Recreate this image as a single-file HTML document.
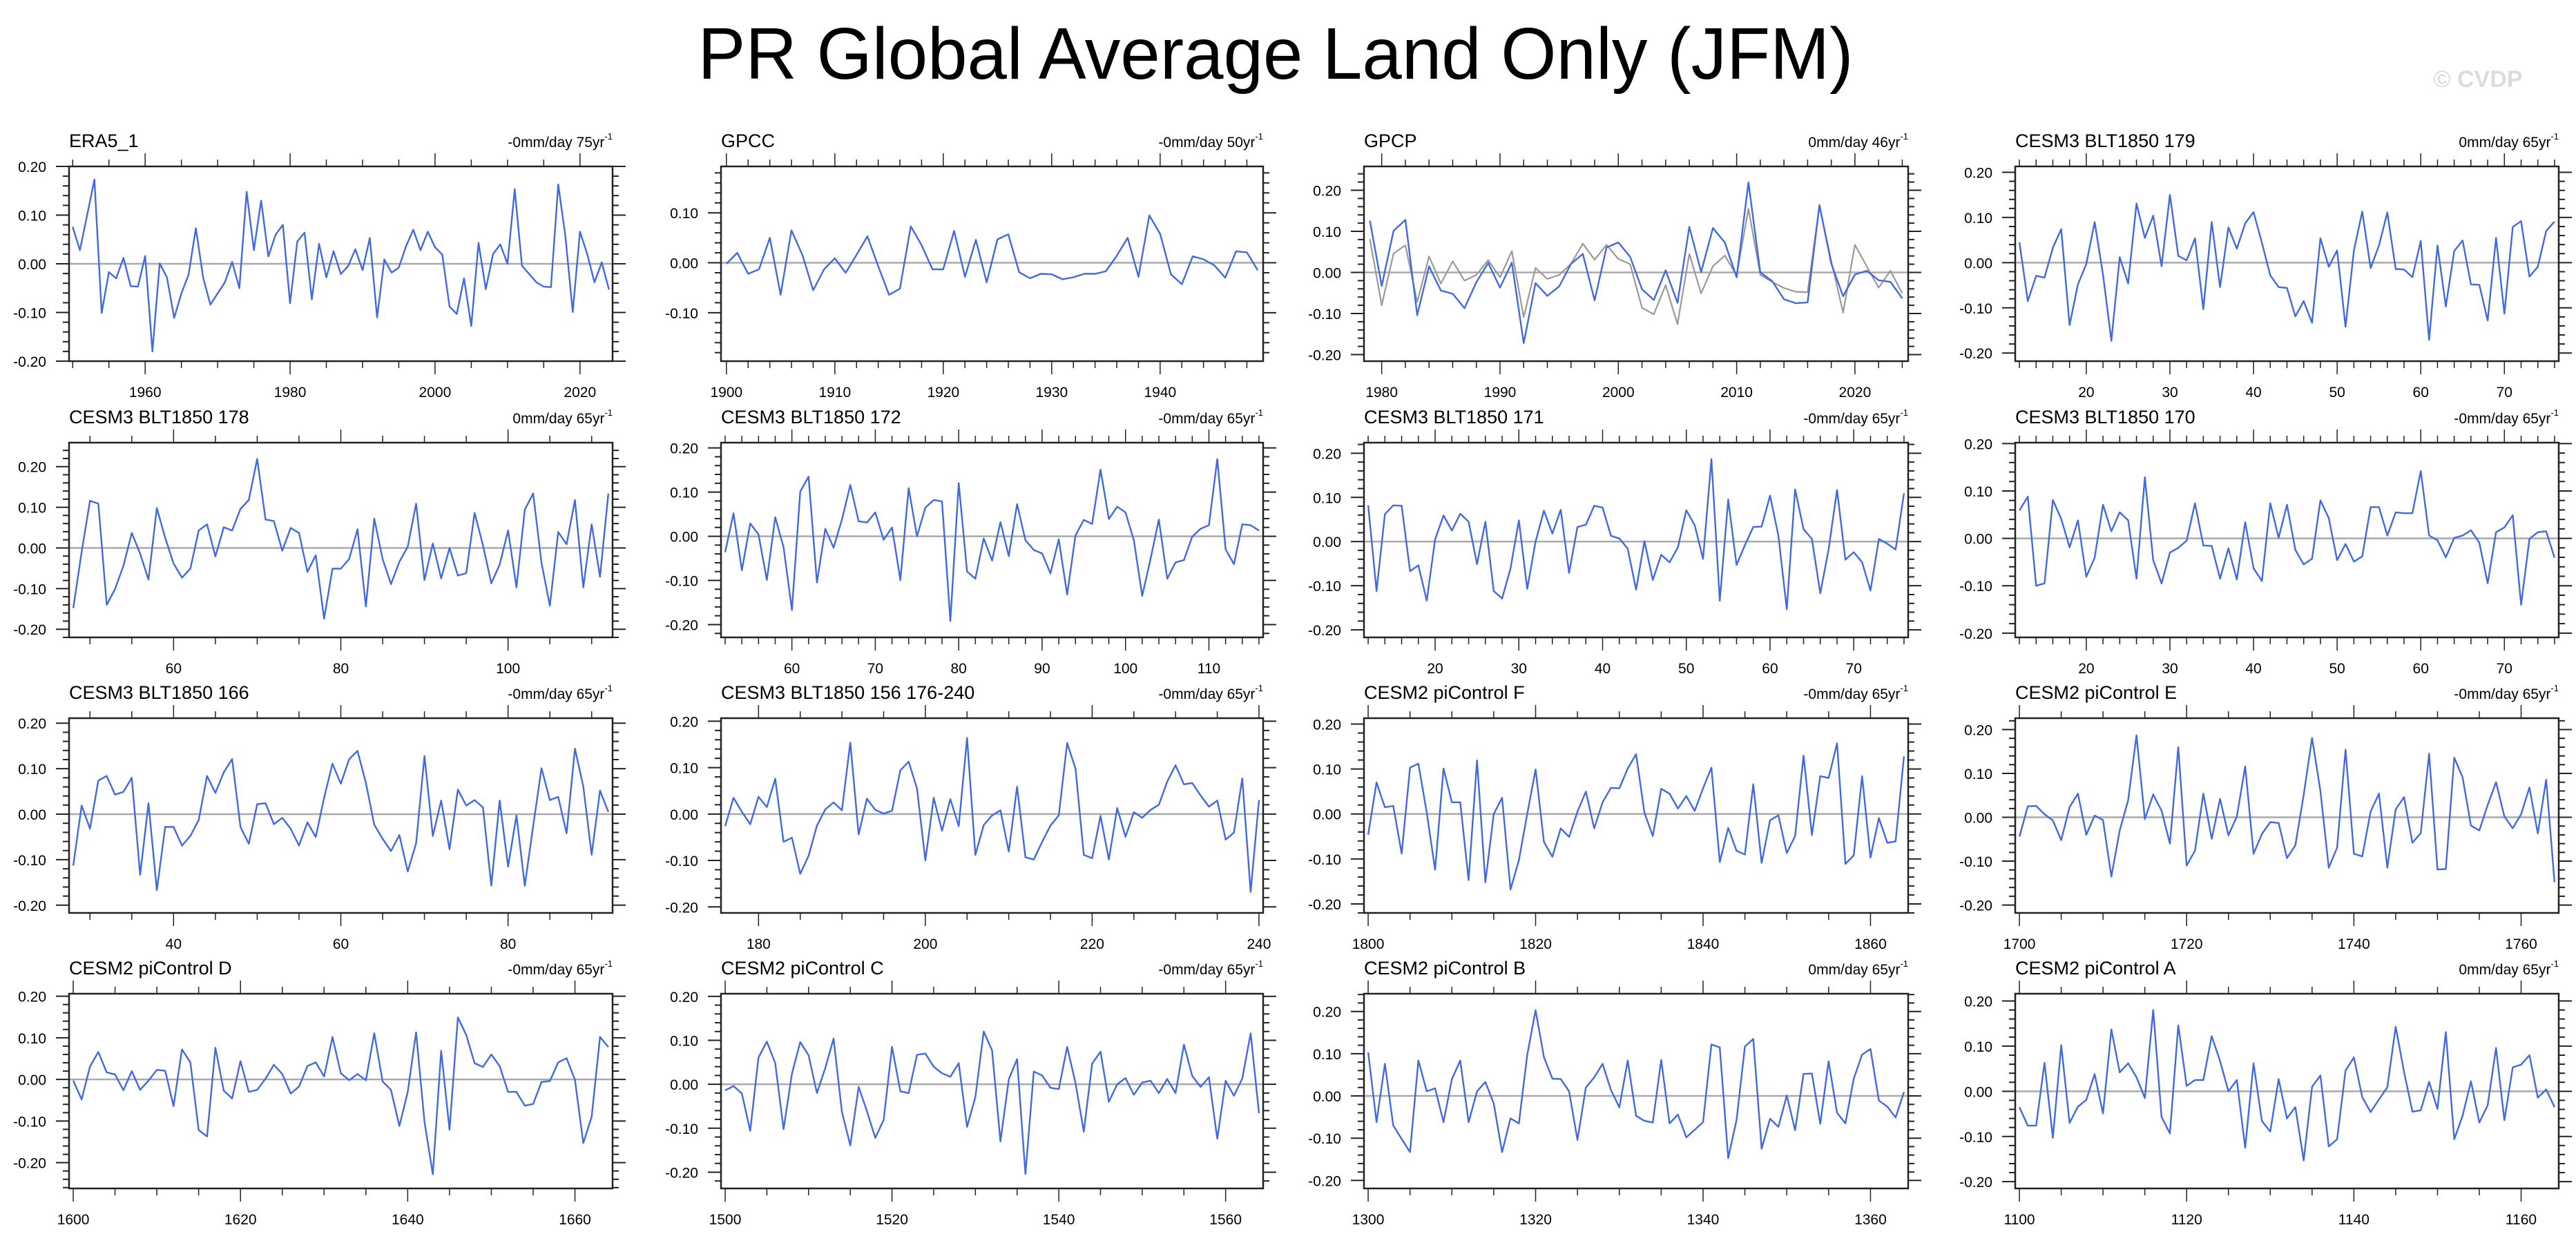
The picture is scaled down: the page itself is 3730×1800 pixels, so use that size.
<!DOCTYPE html>
<html><head><meta charset="utf-8">
<style>
html,body{margin:0;padding:0;background:#fff;}
svg{display:block;font-family:"Liberation Sans",Arial,sans-serif;}
</style></head>
<body>
<svg id="fig" xmlns="http://www.w3.org/2000/svg" width="3730" height="1800" viewBox="0 0 3730 1800">
<rect width="3730" height="1800" fill="#fff"/>
<text x="1847" y="114" font-size="106" text-anchor="middle" textLength="1673" lengthAdjust="spacingAndGlyphs">PR Global Average Land Only (JFM)</text>
<text x="3588" y="126" font-size="34" font-weight="bold" fill="#dcdcdc" text-anchor="middle">© CVDP</text>
<g id="panels"></g>
</svg>
<script>
// ---- data (one value per year, JFM anomaly mm/day) ----
const era5Start = 1950;
const era5 = [0.076,0.028,0.100,0.173,-0.101,-0.017,-0.030,0.012,-0.046,-0.047,0.016,-0.180,0.001,-0.028,-0.111,-0.061,-0.022,0.073,-0.028,-0.084,-0.061,-0.038,0.004,-0.050,0.148,0.028,0.130,0.015,0.060,0.080,-0.081,0.046,0.064,-0.073,0.041,-0.028,0.026,-0.021,-0.005,0.030,-0.013,0.053,-0.110,0.009,-0.018,-0.008,0.036,0.070,0.028,0.066,0.034,0.019,-0.088,-0.103,-0.030,-0.128,0.043,-0.052,0.020,0.040,0.000,0.153,-0.004,-0.021,-0.038,-0.047,-0.048,0.163,0.055,-0.099,0.066,0.020,-0.038,0.003,-0.053];
const gpccStart = 1900;
const gpcc = [-0.002,0.020,-0.022,-0.013,0.050,-0.064,0.065,0.016,-0.055,-0.013,0.009,-0.020,0.016,0.053,-0.007,-0.064,-0.052,0.073,0.035,-0.013,-0.013,0.064,-0.028,0.046,-0.039,0.047,0.057,-0.019,-0.031,-0.022,-0.023,-0.033,-0.029,-0.022,-0.022,-0.017,0.014,0.050,-0.028,0.095,0.058,-0.023,-0.043,0.013,0.007,-0.005,-0.030,0.023,0.021,-0.015];
const gpcpStart = 1979;
const gpcp = [0.126,-0.033,0.101,0.128,-0.104,0.015,-0.044,-0.052,-0.087,-0.024,0.023,-0.037,0.024,-0.172,-0.026,-0.057,-0.034,0.021,0.045,-0.068,0.061,0.073,0.038,-0.041,-0.067,0.005,-0.074,0.111,0.001,0.108,0.073,-0.012,0.219,0.000,-0.021,-0.065,-0.075,-0.073,0.164,0.021,-0.058,-0.005,0.004,-0.019,-0.023,-0.063];
const gpcpRef = [0.081,-0.080,0.046,0.066,-0.072,0.039,-0.027,0.027,-0.020,-0.006,0.030,-0.012,0.052,-0.109,0.011,-0.016,-0.006,0.021,0.070,0.031,0.067,0.033,0.020,-0.086,-0.102,-0.031,-0.126,0.045,-0.051,0.015,0.041,-0.007,0.155,-0.006,-0.023,-0.038,-0.047,-0.048,0.162,0.027,-0.098,0.067,0.015,-0.037,0.004,-0.051];
const c179Start = 12;
const c179 = [0.045,-0.085,-0.029,-0.033,0.033,0.074,-0.138,-0.048,-0.003,0.090,-0.026,-0.173,0.012,-0.046,0.131,0.055,0.104,-0.008,0.150,0.015,0.005,0.054,-0.103,0.090,-0.054,0.078,0.031,0.087,0.112,0.044,-0.028,-0.054,-0.056,-0.119,-0.085,-0.133,0.054,-0.009,0.027,-0.142,0.027,0.113,-0.012,0.038,0.111,-0.014,-0.015,-0.032,0.048,-0.171,0.038,-0.097,0.026,0.049,-0.048,-0.049,-0.128,0.055,-0.113,0.079,0.092,-0.031,-0.009,0.070,0.091];
const c178Start = 48;
const c178 = [-0.148,-0.010,0.116,0.109,-0.140,-0.101,-0.044,0.037,-0.014,-0.078,0.098,0.025,-0.038,-0.073,-0.051,0.043,0.058,-0.021,0.051,0.043,0.096,0.118,0.219,0.070,0.066,-0.007,0.049,0.037,-0.059,-0.018,-0.174,-0.051,-0.051,-0.027,0.046,-0.144,0.072,-0.027,-0.089,-0.034,0.003,0.109,-0.079,0.011,-0.075,0.000,-0.068,-0.062,0.086,0.007,-0.087,-0.041,0.043,-0.097,0.094,0.134,-0.037,-0.142,0.039,0.009,0.118,-0.097,0.058,-0.071,0.134];
const c172Start = 52;
const c172 = [-0.036,0.052,-0.077,0.029,0.004,-0.099,0.043,-0.025,-0.167,0.101,0.135,-0.105,0.017,-0.026,0.038,0.116,0.034,0.031,0.054,-0.008,0.020,-0.099,0.109,0.000,0.065,0.082,0.079,-0.192,0.120,-0.080,-0.096,-0.005,-0.055,0.032,-0.045,0.073,-0.009,-0.031,-0.039,-0.084,-0.007,-0.132,0.002,0.037,0.028,0.151,0.039,0.067,0.054,-0.009,-0.135,-0.051,0.038,-0.096,-0.059,-0.054,-0.001,0.017,0.025,0.175,-0.030,-0.063,0.027,0.025,0.013];
const c171Start = 12;
const c171 = [0.082,-0.112,0.062,0.082,0.081,-0.067,-0.054,-0.134,0.005,0.059,0.025,0.063,0.045,-0.051,0.045,-0.112,-0.129,-0.061,0.048,-0.107,0.000,0.070,0.018,0.072,-0.071,0.033,0.038,0.081,0.077,0.013,0.007,-0.016,-0.109,0.001,-0.087,-0.030,-0.047,-0.013,0.071,0.037,-0.039,0.187,-0.134,0.095,-0.053,-0.008,0.033,0.034,0.104,0.013,-0.153,0.118,0.028,0.006,-0.117,-0.018,0.117,-0.041,-0.024,-0.047,-0.111,0.006,-0.005,-0.018,0.109];
const c170Start = 12;
const c170 = [0.059,0.088,-0.100,-0.095,0.081,0.041,-0.019,0.038,-0.081,-0.041,0.071,0.015,0.055,0.038,-0.085,0.129,-0.046,-0.095,-0.030,-0.020,-0.005,0.074,-0.015,-0.016,-0.085,-0.021,-0.087,0.034,-0.063,-0.090,0.074,0.001,0.071,-0.024,-0.055,-0.043,0.080,0.043,-0.046,-0.012,-0.049,-0.038,0.066,0.066,0.006,0.055,0.053,0.053,0.142,0.006,-0.004,-0.040,0.001,0.006,0.017,-0.009,-0.095,0.013,0.023,0.049,-0.140,-0.001,0.013,0.015,-0.041];
const c166Start = 28;
const c166 = [-0.113,0.019,-0.032,0.074,0.084,0.043,0.049,0.080,-0.133,0.024,-0.167,-0.028,-0.028,-0.069,-0.048,-0.013,0.084,0.047,0.092,0.121,-0.028,-0.065,0.022,0.024,-0.022,-0.008,-0.032,-0.069,-0.018,-0.050,0.036,0.111,0.067,0.121,0.139,0.069,-0.023,-0.054,-0.081,-0.046,-0.126,-0.064,0.128,-0.048,0.030,-0.077,0.054,0.019,0.031,0.015,-0.157,0.030,-0.115,-0.003,-0.157,-0.026,0.101,0.031,0.038,-0.042,0.144,0.061,-0.089,0.052,0.005];
const c156Start = 176;
const c156 = [-0.026,0.035,0.005,-0.022,0.037,0.015,0.076,-0.060,-0.051,-0.129,-0.090,-0.025,0.010,0.025,0.008,0.154,-0.044,0.033,0.009,0.001,0.007,0.094,0.113,0.055,-0.100,0.035,-0.036,0.032,-0.026,0.164,-0.088,-0.024,-0.003,0.008,-0.081,0.059,-0.093,-0.098,-0.060,-0.025,-0.003,0.153,0.098,-0.088,-0.095,-0.004,-0.098,0.013,-0.049,0.004,-0.008,0.009,0.020,0.070,0.105,0.064,0.067,0.040,0.016,0.029,-0.055,-0.040,0.077,-0.168,0.030];
const pcFStart = 1800;
const pcF = [-0.046,0.070,0.015,0.018,-0.088,0.103,0.112,0.003,-0.124,0.101,0.026,0.026,-0.147,0.119,-0.152,0.000,0.036,-0.168,-0.103,0.000,0.099,-0.062,-0.095,-0.032,-0.051,0.005,0.050,-0.032,0.026,0.058,0.057,0.101,0.133,0.003,-0.049,0.056,0.045,0.012,0.040,0.007,0.057,0.103,-0.107,-0.031,-0.082,-0.090,0.066,-0.109,-0.014,-0.003,-0.087,-0.049,0.130,-0.047,0.084,0.080,0.157,-0.111,-0.092,0.084,-0.097,-0.009,-0.064,-0.061,0.128];
const pcEStart = 1700;
const pcE = [-0.044,0.025,0.026,0.007,-0.007,-0.052,0.023,0.054,-0.040,0.004,-0.006,-0.135,-0.030,0.039,0.187,-0.004,0.052,0.015,-0.060,0.160,-0.110,-0.076,0.054,-0.049,0.042,-0.041,0.002,0.116,-0.083,-0.038,-0.011,-0.013,-0.093,-0.064,0.051,0.181,0.060,-0.115,-0.069,0.154,-0.083,-0.089,0.013,0.054,-0.115,0.018,0.046,-0.058,-0.036,0.145,-0.119,-0.118,0.136,0.091,-0.019,-0.030,0.028,0.080,0.002,-0.025,0.007,0.068,-0.037,0.086,-0.148];
const pcDStart = 1600;
const pcD = [-0.003,-0.048,0.031,0.066,0.017,0.012,-0.026,0.020,-0.025,-0.003,0.023,0.021,-0.064,0.072,0.041,-0.122,-0.137,0.076,-0.027,-0.046,0.044,-0.030,-0.025,0.002,0.035,0.013,-0.034,-0.017,0.032,0.041,0.007,0.102,0.015,-0.002,0.013,-0.002,0.111,-0.005,-0.025,-0.112,-0.030,0.113,-0.101,-0.228,0.069,-0.121,0.149,0.107,0.039,0.030,0.060,0.032,-0.030,-0.030,-0.063,-0.059,-0.006,-0.004,0.041,0.051,-0.001,-0.153,-0.090,0.102,0.078];
const pcCStart = 1500;
const pcC = [-0.014,-0.004,-0.021,-0.106,0.061,0.097,0.048,-0.102,0.024,0.096,0.066,-0.020,0.037,0.104,-0.063,-0.139,-0.006,-0.061,-0.122,-0.081,0.085,-0.016,-0.020,0.067,0.070,0.040,0.025,0.017,0.048,-0.097,-0.029,0.120,0.077,-0.130,0.011,0.057,-0.204,0.029,0.020,-0.008,-0.011,0.085,0.003,-0.108,0.047,0.074,-0.040,0.000,0.014,-0.024,0.004,0.008,-0.020,0.012,-0.020,0.090,0.019,-0.006,0.016,-0.124,0.008,-0.026,0.013,0.116,-0.066];
const pcBStart = 1300;
const pcB = [0.103,-0.062,0.076,-0.070,-0.102,-0.133,0.084,0.011,0.018,-0.062,0.040,0.084,-0.062,0.011,0.033,-0.018,-0.133,-0.053,-0.065,0.097,0.203,0.092,0.041,0.040,0.011,-0.104,0.020,0.044,0.076,0.014,-0.027,0.084,-0.047,-0.059,-0.063,0.085,-0.065,-0.044,-0.098,-0.080,-0.062,0.122,0.115,-0.147,-0.057,0.117,0.135,-0.125,-0.054,-0.073,0.001,-0.081,0.052,0.053,-0.066,0.082,-0.040,-0.065,0.041,0.098,0.111,-0.011,-0.025,-0.051,0.009];
const pcAStart = 1100;
const pcA = [-0.035,-0.076,-0.076,0.063,-0.103,0.102,-0.070,-0.034,-0.019,0.038,-0.049,0.137,0.042,0.062,0.031,-0.015,0.180,-0.057,-0.093,0.146,0.012,0.025,0.025,0.122,0.067,0.000,0.025,-0.125,0.062,-0.066,-0.089,0.027,-0.060,-0.035,-0.153,0.010,0.035,-0.122,-0.106,0.046,0.075,-0.013,-0.046,-0.018,0.009,0.143,0.043,-0.045,-0.042,0.021,-0.039,0.131,-0.106,-0.054,0.022,-0.069,-0.031,0.096,-0.064,0.053,0.059,0.080,-0.014,0.004,-0.035];
const panelTitles = ["ERA5_1","GPCC","GPCP","CESM3 BLT1850 179","CESM3 BLT1850 178","CESM3 BLT1850 172","CESM3 BLT1850 171","CESM3 BLT1850 170","CESM3 BLT1850 166","CESM3 BLT1850 156 176-240","CESM2 piControl F","CESM2 piControl E","CESM2 piControl D","CESM2 piControl C","CESM2 piControl B","CESM2 piControl A"];
const panelTrends = ["-0mm/day 75yr","-0mm/day 50yr","0mm/day 46yr","0mm/day 65yr","0mm/day 65yr","-0mm/day 65yr","-0mm/day 65yr","-0mm/day 65yr","-0mm/day 65yr","-0mm/day 65yr","-0mm/day 65yr","-0mm/day 65yr","-0mm/day 65yr","-0mm/day 65yr","0mm/day 65yr","0mm/day 65yr"];
const seriesList = [era5,gpcc,gpcp,c179,c178,c172,c171,c170,c166,c156,pcF,pcE,pcD,pcC,pcB,pcA];
const startYears = [era5Start,gpccStart,gpcpStart,c179Start,c178Start,c172Start,c171Start,c170Start,c166Start,c156Start,pcFStart,pcEStart,pcDStart,pcCStart,pcBStart,pcAStart];
const yMinList = [-0.200,-0.197,-0.216,-0.218,-0.220,-0.229,-0.217,-0.209,-0.217,-0.213,-0.220,-0.218,-0.262,-0.237,-0.219,-0.215];
const yMaxList = [0.200,0.193,0.258,0.213,0.259,0.212,0.224,0.202,0.211,0.2065,0.213,0.226,0.206,0.206,0.242,0.216];
const xMajorStep = [20,10,10,10,20,10,10,10,20,20,20,20,20,20,20,20];
const xMinorStep = [5,2,2,2,5,2,2,2,5,5,5,5,5,5,5,5];

// ---- layout ----
const NS = "http://www.w3.org/2000/svg";
const colLeft = [100,1044,1975,2918];
const colRight = [887,1829,2763,3705];
const rowTop = [241,641,1040,1439];
const boxH = 282;
const root = document.getElementById('panels');
function mk(tag, attrs, parent){
  const e = document.createElementNS(NS, tag);
  for (const k in attrs) e.setAttribute(k, attrs[k]);
  parent.appendChild(e);
  return e;
}
function slug(s){return s.toLowerCase().replace(/[^a-z0-9]+/g,'-').replace(/^-|-$/g,'');}

seriesList.forEach((vals, p) => {
  const r = Math.floor(p/4), c = p%4;
  const L = colLeft[c], R = colRight[c], T = rowTop[r], B = T + boxH;
  const y0 = startYears[p], n = vals.length;
  const xmin = y0 - 0.5, xmax = y0 + n - 1 + 0.5;
  const ymin = yMinList[p], ymax = yMaxList[p];
  const sx = v => L + (v - xmin) / (xmax - xmin) * (R - L);
  const sy = v => B - (v - ymin) / (ymax - ymin) * (B - T);
  const g = mk('g', {}, root);
  
  

  const t = mk('text', {x: L, y: T - 28, 'font-size': 27}, g);
  t.textContent = panelTitles[p];
  
  
  const st = mk('text', {x: R, y: T - 28, 'font-size': 21, 'text-anchor': 'end'}, g);
  
  
  st.appendChild(document.createTextNode(panelTrends[p]));
  const sup = mk('tspan', {dy: -11, 'font-size': 13}, st);
  sup.textContent = '-1';

  // zero line
  const z = mk('line', {x1: L, x2: R, y1: sy(0), y2: sy(0), stroke: '#aaa', 'stroke-width': 2.5}, g);
  
  

  // y ticks
  const yAxis = mk('g', {stroke: '#222', 'stroke-width': 2}, g);
  
  
  for (let k = Math.ceil(ymin / 0.02 - 1e-6); k <= Math.floor(ymax / 0.02 + 1e-6); k++) {
    const v = k * 0.02, yy = sy(v);
    const major = (k % 5 === 0);
    const len = major ? 19 : 9;
    mk('line', {x1: L - len, x2: L, y1: yy, y2: yy}, yAxis);
    mk('line', {x1: R, x2: R + len, y1: yy, y2: yy}, yAxis);
    if (major) {
      const lab = mk('text', {x: L - 33, y: yy + 8, 'font-size': 21, 'text-anchor': 'end', stroke: 'none', fill: '#000'}, g);
      lab.textContent = (Math.abs(v) < 1e-9 ? 0 : v).toFixed(2);
      
      
    }
  }
  // x ticks
  const xAxis = mk('g', {stroke: '#222', 'stroke-width': 1.5}, g);
  
  
  const ms = xMinorStep[p], Ms = xMajorStep[p];
  for (let yr = Math.ceil(xmin / ms) * ms; yr <= xmax; yr += ms) {
    const xx = sx(yr);
    const major = (yr % Ms === 0);
    const len = major ? 19 : 10;
    mk('line', {x1: xx, x2: xx, y1: B, y2: B + len}, xAxis);
    mk('line', {x1: xx, x2: xx, y1: T - len, y2: T}, xAxis);
    if (major) {
      const lab = mk('text', {x: xx, y: B + 52, 'font-size': 21, 'text-anchor': 'middle', stroke: 'none', fill: '#000'}, g);
      lab.textContent = String(yr);
      
      
    }
  }

  // reference series (GPCP panel gray)
  if (p === 2) {
    const pts = gpcpRef.map((v, i) => sx(y0 + i).toFixed(1) + ',' + sy(v).toFixed(1)).join(' ');
    const pl = mk('polyline', {points: pts, fill: 'none', stroke: '#999', 'stroke-width': 2.2, 'stroke-linejoin': 'round'}, g);
    
    
  }
  const pts = vals.map((v, i) => sx(y0 + i).toFixed(1) + ',' + sy(v).toFixed(1)).join(' ');
  const line = mk('polyline', {points: pts, fill: 'none', stroke: '#4169e1', 'stroke-width': 2.4, 'stroke-linejoin': 'round'}, g);
  
  

  const box = mk('rect', {x: L, y: T, width: R - L, height: B - T, fill: 'none', stroke: '#222', 'stroke-width': 2.5}, g);
  
  
});
</script>
</body></html>
